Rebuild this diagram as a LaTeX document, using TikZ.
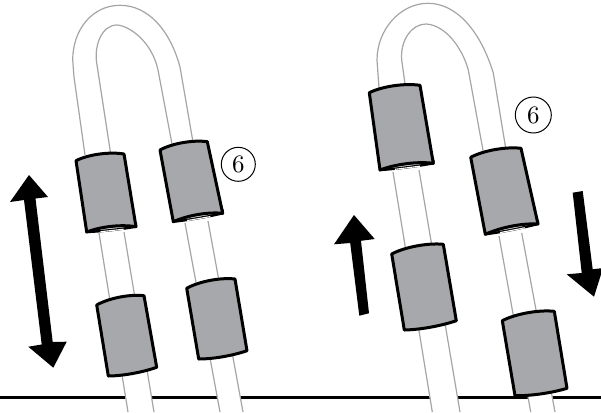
\documentclass[tikz,border=0pt]{standalone}
\usetikzlibrary{calc}
\definecolor{collargray}{RGB}{167,168,171}
\definecolor{tubegray}{RGB}{165,165,168}
\font\numfont=cmr10 at 25pt
\tikzset{
  tubeline/.style={draw=tubegray,line width=1.2pt},
  tubefill/.style={fill=white,draw=none},
  collar/.style={draw=black,fill=collargray,line width=3pt,line join=round},
  bigarrow/.style={fill=black,draw=none},
  numcircle/.style={draw=black,circle,line width=1pt,inner sep=0pt,font=\numfont}
}
% corners: TL, TR, BR, BL as x,y pairs
\newcommand{\sleeve}[8]{%
  \path[collar] (#1,#2) .. controls ($(#1,#2)!.25!(#3,#4)+(0,-4.5)$) and ($(#1,#2)!.7!(#3,#4)+(0,-4.5)$) .. (#3,#4)
   -- (#5,#6) .. controls ($(#5,#6)!.3!(#7,#8)+(0,2.5)$) and ($(#5,#6)!.7!(#7,#8)+(0,2.5)$) .. (#7,#8) -- cycle;}
\newcommand{\sleevehole}[8]{%
  \path[draw=black,fill=collargray!45,line width=2.4pt,line join=round] (#5,#6) .. controls ($(#5,#6)!.3!(#7,#8)+(0,1)$) and ($(#5,#6)!.7!(#7,#8)+(0,1)$) .. (#7,#8) -- ($(#7,#8)+(0,-3)$) -- ($(#5,#6)+(0,-3)$) -- cycle;
  \path[collar] (#1,#2) .. controls ($(#1,#2)!.25!(#3,#4)+(0,-4.5)$) and ($(#1,#2)!.7!(#3,#4)+(0,-4.5)$) .. (#3,#4)
   -- (#5,#6) .. controls ($(#5,#6)!.3!(#7,#8)+(0,-4)$) and ($(#5,#6)!.7!(#7,#8)+(0,-4)$) .. (#7,#8) -- cycle;
  \draw[white,line width=1.1pt] ($(#7,#8)!.28!(#5,#6)+(0,1.2)$) -- ($(#7,#8)!.75!(#5,#6)+(0,1.2)$);}
\begin{document}
\begin{tikzpicture}[x=1pt,y=-1pt]
\useasboundingbox (0,0) rectangle (601,412);
\clip (0,0) rectangle (601,412);
% ground
\draw[black,line width=2.8pt] (0,397.7) -- (601,397.7);
% left tube
\fill[tubefill] (85,155) -- (72.7,60) .. controls (72.7,30) and (92,5.3) .. (120,5.3) .. controls (148,5.3) and (170,30) .. (180,67) -- (193,142) -- (172,144) -- (158,70) .. controls (152,42) and (130,26) .. (117,25) .. controls (102,25) and (94,45) .. (96.7,63) -- (110.7,154) -- cycle;
\draw[tubeline] (85,155) -- (74,77) -- (72.7,60) .. controls (72.7,30) and (92,5.3) .. (120,5.3) .. controls (148,5.3) and (170,30) .. (180,67) -- (193,142);
\draw[tubeline] (110.7,154) -- (96.7,63) .. controls (94,45) and (102,25) .. (117,25) .. controls (130,26) and (152,42) .. (158,70) -- (172,144);
\fill[tubefill] (99,230) -- (128,412) -- (154,412) -- (124,230) -- cycle;
\fill[tubefill] (185,220) -- (220,412) -- (243,412) -- (208,218) -- cycle;
% right tube
\fill[tubefill] (379,88) -- (377,60) .. controls (377,30) and (400,3.3) .. (428,3.3) .. controls (456,3.3) and (480,30) .. (493.3,73) -- (506,150) -- (483.3,152) -- (468.3,70) .. controls (462,47) and (445,25) .. (426,24) .. controls (412,24) and (400,40) .. (401.7,60) -- (405.3,86) -- cycle;
\draw[tubeline] (379,88) -- (377,60) .. controls (377,30) and (400,3.3) .. (428,3.3) .. controls (456,3.3) and (480,30) .. (493.3,73) -- (506,150);
\draw[tubeline] (405.3,86) -- (401.7,60) .. controls (400,40) and (412,24) .. (426,24) .. controls (445,25) and (462,47) .. (468.3,70) -- (483.3,152);
\fill[tubefill] (393,170) -- (432.3,412) -- (460,412) -- (419,168) -- cycle;
\fill[tubefill] (499,233) -- (530.7,412) -- (555,412) -- (521.7,230) -- cycle;
% sleeves with an open lower end
\sleevehole{76}{160.7}{124}{154}{136}{226.7}{86.7}{232}
\sleevehole{160}{150}{207.3}{141.7}{222.7}{213.3}{173.3}{221.7}
\sleevehole{369.3}{92.7}{420}{85.3}{433.3}{163.3}{380}{170}
\sleevehole{470.7}{157.3}{521}{148.3}{538}{224}{485.3}{234.3}
% tube lines below the open ends
\draw[tubeline] (99,233) -- (128,412);
\draw[tubeline] (124,232) -- (154,412);
\draw[tubeline] (185,223) -- (220,412);
\draw[tubeline] (208,221) -- (243,412);
\draw[tubeline] (393,172) -- (432.3,412);
\draw[tubeline] (419,170) -- (460,412);
\draw[tubeline] (499,236) -- (530.7,412);
\draw[tubeline] (521.7,233) -- (555,412);
% closed sleeves
\sleeve{96.7}{305}{144}{295.7}{156.7}{367.3}{108.3}{376}
\sleeve{186.7}{288.3}{235}{279}{247}{350.7}{198.7}{359}
\sleeve{391.7}{254}{443.3}{244.3}{456.3}{320.7}{404.3}{330}
\sleeve{502.3}{320.7}{554.3}{311.3}{567}{388.3}{515}{395.7}
% arrows
\fill[bigarrow] (29,175) -- (48,197) -- (35.5,198.5) -- (52.7,342) -- (66.7,341.7) -- (53.3,367.7) -- (28.3,346.7) -- (41.7,344.5) -- (24,200) -- (10,202) -- cycle;
\fill[bigarrow] (354,215) -- (374.7,239) -- (361,240.8) -- (369,313.3) -- (359.3,315.7) -- (350.2,243) -- (334,244.3) -- cycle;
\fill[bigarrow] (572.7,192.7) -- (582.7,191) -- (592.7,269.3) -- (603,268) -- (594,296.7) -- (566.7,274.3) -- (581.7,273) -- cycle;
% labels
\node[numcircle,minimum size=34pt] (n1) at (238.3,164.3) {6};
\node[numcircle,minimum size=36pt] (n2) at (533.3,115) {6};
\end{tikzpicture}
\end{document}
